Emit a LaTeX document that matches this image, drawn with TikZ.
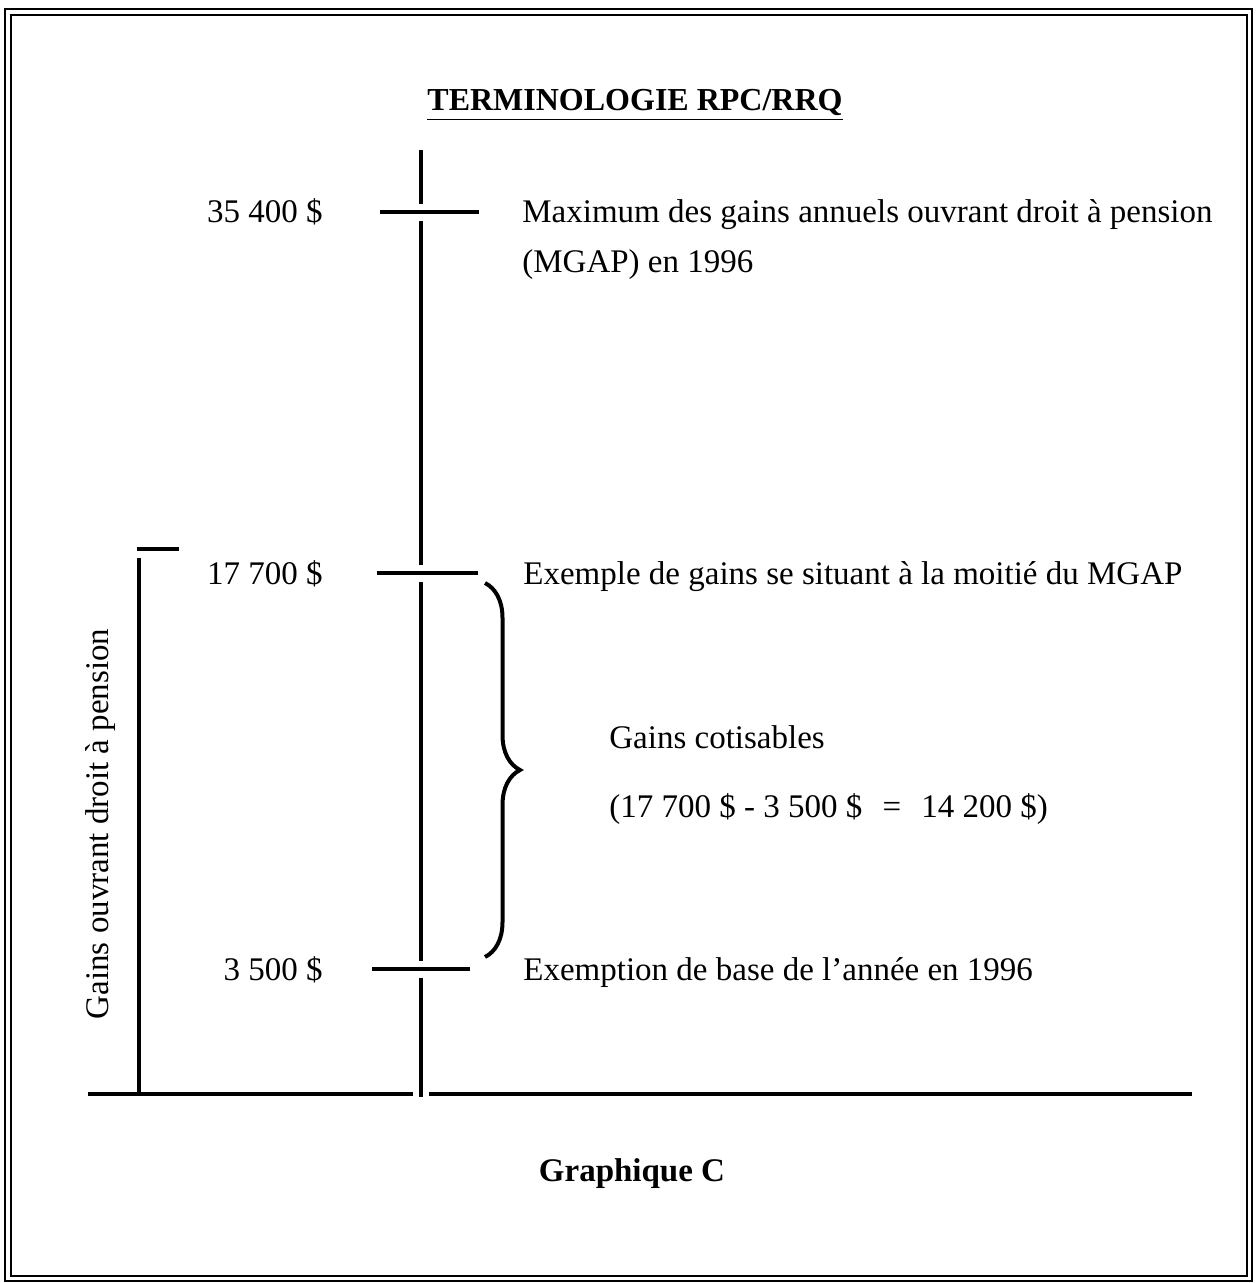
\documentclass[tikz,border=0pt]{standalone}
\usepackage{fontspec}
\setmainfont{Liberation Serif}
\usetikzlibrary{decorations.pathreplacing}

\begin{document}
\begin{tikzpicture}[x=0.5pt, y=-0.5pt,
  every node/.style={font=\fontsize{16.5}{20}\selectfont, inner sep=0pt},
  axe/.style={line width=2pt},
  cadre/.style={line width=1.3pt},
  pt/.style={coordinate}]

  \useasboundingbox (0,0) rectangle (1256,1283);

  % --- cadre double ---
  \draw[cadre] (5,9) rectangle (1252,1281);
  \draw[line width=1pt] (11,15) rectangle (1247,1276);

  % --- positions ---
  \def\xaxe{421}
  \def\ya{212}
  \def\yb{573}
  \def\yc{969}
  \def\ybas{1094}

  % ============================================================
  % Axe vertical (interrompu aux graduations)
  % ============================================================
  \node[pt] (haut) at (\xaxe,150) {};
  \node[pt] (a1) at (\xaxe,204) {};
  \node[pt] (a2) at (\xaxe,221) {};
  \node[pt] (b1) at (\xaxe,565) {};
  \node[pt] (b2) at (\xaxe,582) {};
  \node[pt] (c1) at (\xaxe,961) {};
  \node[pt] (c2) at (\xaxe,978) {};
  \node[pt] (bas) at (\xaxe,1097) {};
  \draw[axe] (haut) -- (a1);
  \draw[axe] (a2) -- (b1);
  \draw[axe] (b2) -- (c1);
  \draw[axe] (c2) -- (bas);

  % graduations
  \node[pt] (ta1) at (380,\ya) {};
  \node[pt] (ta2) at (479,\ya) {};
  \node[pt] (tb1) at (377,\yb) {};
  \node[pt] (tb2) at (478,\yb) {};
  \node[pt] (tc1) at (372,\yc) {};
  \node[pt] (tc2) at (470,\yc) {};
  \draw[axe] (ta1) -- (ta2);
  \draw[axe] (tb1) -- (tb2);
  \draw[axe] (tc1) -- (tc2);

  % ligne de base
  \node[pt] (g1) at (88,\ybas) {};
  \node[pt] (g2) at (413,\ybas) {};
  \node[pt] (d1) at (429,\ybas) {};
  \node[pt] (d2) at (1192,\ybas) {};
  \draw[axe] (g1) -- (g2);
  \draw[axe] (d1) -- (d2);

  % ============================================================
  % Gains ouvrant droit a pension (a gauche)
  % ============================================================
  \node[pt] (crochet1) at (137,549) {};
  \node[pt] (crochet2) at (179,549) {};
  \node[pt] (v1) at (139,558) {};
  \node[pt] (v2) at (139,\ybas) {};
  \draw[axe] (crochet1) -- (crochet2);
  \draw[axe] (v1) -- (v2);
  \node[rotate=90] (gop) at (101,824) {Gains ouvrant droit à pension};

  % ============================================================
  % Montants et textes
  % ============================================================
  \node[anchor=base east] (m35) at (323,223) {35 400 \$};
  \node[anchor=base east] (m17) at (323,584) {17 700 \$};
  \node[anchor=base east] (m3) at (323,980) {3 500 \$};

  \node[anchor=base west] (mgap) at (522,223) {Maximum des gains annuels ouvrant droit à pension};
  \node[anchor=base west] (mgap2) at (522,273) {(MGAP) en 1996};
  \node[anchor=base west] (moitie) at (523,584) {Exemple de gains se situant à la moitié du MGAP};
  \node[anchor=base west] (exemp) at (523,980) {Exemption de base de l'année en 1996};

  % accolade des gains cotisables
  \node[pt] (acc1) at (485,583) {};
  \node[pt] (acc2) at (485,957) {};
  \draw[line width=2pt, decorate, decoration={brace, amplitude=17.5pt}] (acc1) -- (acc2);
  \node[anchor=base west] (cotis) at (609,748) {Gains cotisables};
  \node[anchor=base west] (calcul) at (609,817) {(17 700 \$ - 3 500 \$\hspace{6pt} = \hspace{6pt}14 200 \$)};

  % --- titre et legende ---
  \node[anchor=base, font=\fontsize{16}{20}\selectfont\bfseries] (titre) at (635,111) {\underline{TERMINOLOGIE RPC/RRQ}};
  \node[anchor=base, font=\fontsize{16.5}{20}\selectfont\bfseries] (graph) at (632,1181) {Graphique C};

\end{tikzpicture}
\end{document}
